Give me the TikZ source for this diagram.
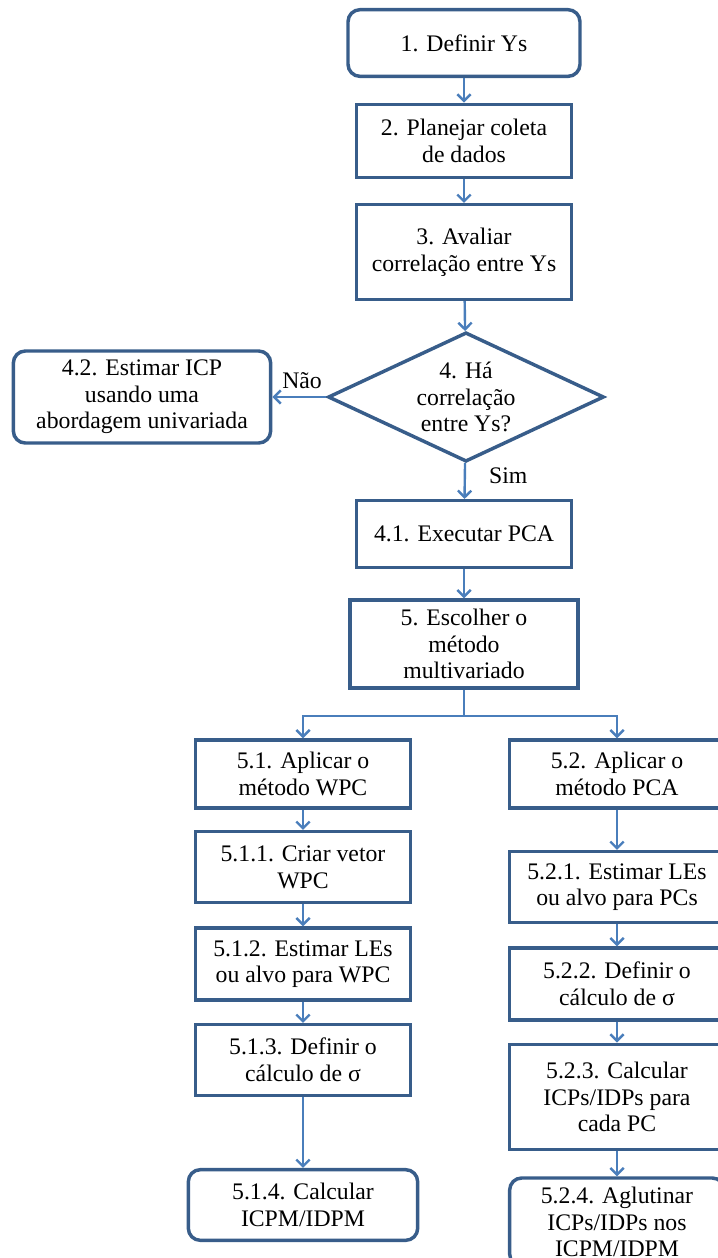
\documentclass[tikz,border=0pt]{standalone}
\usepackage{fontspec}
\setmainfont{Liberation Serif}
\usepackage{tikz}
\usetikzlibrary{calc,positioning,shapes,arrows.meta}
\definecolor{boxline}{RGB}{56,93,138}
\definecolor{arrline}{RGB}{74,126,187}

\begin{document}
\begin{tikzpicture}[x=0.75pt,y=-0.75pt,
		every node/.style={font=\rmfamily\fontsize{17.8}{20}\selectfont},
		blk/.style={draw=boxline,line width=2.6pt,fill=white,align=center,inner sep=0pt},
		rblk/.style={blk,rounded corners=9pt},
		decision/.style={diamond,draw=boxline,line width=2.6pt,fill=white,align=center,inner sep=0pt,
			minimum width=207pt,minimum height=97pt,aspect=2.14},
		arr/.style={draw=arrline,line width=1.8pt,-{Straight Barb[length=5pt,width=10pt]}}]
		\useasboundingbox (0,0) rectangle (718,1258);
		\clip (0,0) rectangle (718,1258);
		% main column
		\node[rblk,minimum width=174pt,minimum height=50pt] (def) at (464,43) {1. Definir Ys};
		\node[blk,minimum width=161pt,minimum height=55pt] (plan) at (464,141) {2. Planejar coleta\\de dados};
		\node[blk,minimum width=161pt,minimum height=71pt] (aval) at (464,252) {3. Avaliar\\correlação entre Ys};
		\node[decision] (corr) at (466,397) {4. Há\\correlação\\entre Ys?};
		\node[rblk,minimum width=193pt,minimum height=69pt] (univ) at (142,397) {4.2. Estimar ICP\\usando uma\\abordagem univariada};
		\node[blk,minimum width=161pt,minimum height=50pt] (pca) at (464,534) {4.1. Executar PCA};
		\node[blk,minimum width=171pt,minimum height=66pt] (esc) at (464,644) {5. Escolher o\\método\\multivariado};
		% WPC branch
		\node[blk,minimum width=161pt,minimum height=51pt] (wpc) at (303,774) {5.1. Aplicar o\\método WPC};
		\node[blk,minimum width=161pt,minimum height=53pt] (vet) at (303,867) {5.1.1. Criar vetor\\WPC};
		\node[blk,minimum width=161pt,minimum height=54pt] (lew) at (303,964) {5.1.2. Estimar LEs\\ou alvo para WPC};
		\node[blk,minimum width=161pt,minimum height=53pt] (sigw) at (303,1060) {5.1.3. Definir o\\cálculo de σ};
		\node[rblk,minimum width=172pt,minimum height=53pt] (calw) at (303,1205) {5.1.4. Calcular\\ICPM/IDPM};
		% PCA branch
		\node[blk,minimum width=161pt,minimum height=51pt] (mpca) at (617,774) {5.2. Aplicar o\\método PCA};
		\node[blk,minimum width=161pt,minimum height=53pt] (lep) at (617,887) {5.2.1. Estimar LEs\\ou alvo para PCs};
		\node[blk,minimum width=161pt,minimum height=54pt] (sigp) at (617,984) {5.2.2. Definir o\\cálculo de σ};
		\node[blk,minimum width=161pt,minimum height=79pt] (calp) at (617,1097) {5.2.3. Calcular\\ICPs/IDPs para\\cada PC};
		\node[rblk,minimum width=161pt,minimum height=66pt] (agl) at (617,1222) {5.2.4. Aglutinar\\ICPs/IDPs nos\\ICPM/IDPM};
		\coordinate (split) at (464,716);
		% connectors
		\draw[arr] (def) -- (plan);
		\draw[arr] (plan) -- (aval);
		\draw[arr] (aval) -- (corr);
		\draw[arr] (corr) -- node[above=2pt,pos=0.45] (nao) {Não} (univ);
		\draw[arr] (corr) -- node[right=14pt,pos=0.35] (sim) {Sim} (pca);
		\draw[arr] (pca) -- (esc);
		\draw[draw=arrline,line width=1.8pt] (esc) -- (split);
		\draw[arr] (split) -| (wpc.north);
		\draw[arr] (split) -| (mpca.north);
		\draw[arr] (wpc) -- (vet);
		\draw[arr] (vet) -- (lew);
		\draw[arr] (lew) -- (sigw);
		\draw[arr] (sigw) -- (calw);
		\draw[arr] (mpca) -- (lep);
		\draw[arr] (lep) -- (sigp);
		\draw[arr] (sigp) -- (calp);
		\draw[arr] (calp) -- (agl);
\end{tikzpicture}
\end{document}
